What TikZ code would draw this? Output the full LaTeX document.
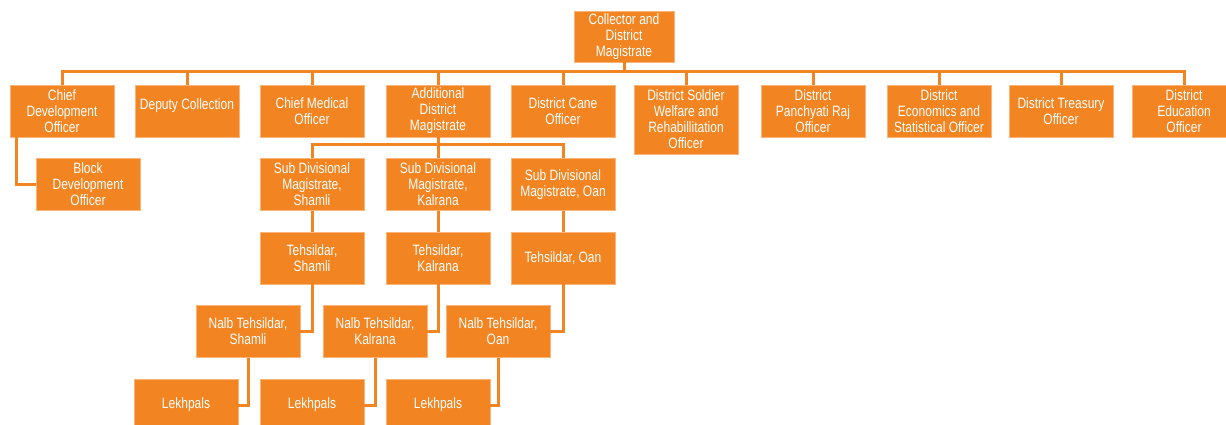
\documentclass[tikz,border=0pt]{standalone}
\usepackage{fontspec}
\setmainfont[FakeStretch=0.8]{Liberation Sans}
\definecolor{org}{RGB}{242,133,34}
\definecolor{orgedge}{RGB}{249,180,122}
\begin{document}
\begin{tikzpicture}[x=1pt,y=-1pt,
  box/.style={rectangle,fill=org,draw=orgedge,line width=0.8pt,text=white,align=center,
    minimum width=104pt,minimum height=52pt,inner sep=0pt,
    font=\fontsize{15}{16}\selectfont},
  conn/.style={draw=org,line width=3pt}]
\clip (0,0) rectangle (1226,425);
\fill[white] (0,0) rectangle (1226,425);
% top
\node[box,minimum width=100pt,minimum height=51pt] (top) at (624,36.5) {Collector and\\District\\Magistrate};
% row 1
\node[box] (cdo) at (62,111) {Chief\\Development\\Officer};
\node[box] (dep) at (187,111) {\raisebox{5pt}[\height][\depth]{Deputy Collection}};
\node[box] (cmo) at (312,111) {Chief Medical\\Officer};
\node[box] (adm) at (438,111) {Additional\\District\\Magistrate};
\node[box] (cane) at (563,111) {District Cane\\Officer};
\node[box,minimum height=69pt] (sold) at (686,119.5) {District Soldier\\Welfare and\\Rehabillitation\\Officer};
\node[box] (pan) at (813,111) {District\\Panchyati Raj\\Officer};
\node[box] (eco) at (939,111) {District\\Economics and\\Statistical Officer};
\node[box] (tre) at (1061,111) {District Treasury\\Officer};
\node[box] (edu) at (1184,111) {District\\Education\\Officer};
% row 2
\node[box] (bdo) at (88,184.5) {Block\\Development\\Officer};
\node[box] (sdms) at (312,184.5) {Sub Divisional\\Magistrate,\\Shamli};
\node[box] (sdmk) at (438,184.5) {Sub Divisional\\Magistrate,\\Kalrana};
\node[box] (sdmo) at (563,184.5) {Sub Divisional\\Magistrate, Oan};
% tehsildar
\node[box] (ts) at (312,258) {Tehsildar,\\Shamli};
\node[box] (tk) at (438,258) {Tehsildar,\\Kalrana};
\node[box] (to) at (563,258) {Tehsildar, Oan};
% nalb
\node[box] (ns) at (248,331.5) {Nalb Tehsildar,\\Shamli};
\node[box] (nk) at (375,331.5) {Nalb Tehsildar,\\Kalrana};
\node[box] (no) at (498,331.5) {Nalb Tehsildar,\\Oan};
% lekhpals
\node[box] (ls) at (186,405) {Lekhpals};
\node[box] (lk) at (312,405) {Lekhpals};
\node[box] (lo) at (438,405) {Lekhpals};
% connectors
\coordinate (bus) at (0,72);
\coordinate (sbus) at (0,145);
\foreach \c in {cdo,dep,cmo,adm,cane,sold,pan,eco,tre,edu}
  \draw[conn] (top.south) -- (top.south |- bus) -| (\c.north);
\foreach \c in {sdms,sdmk,sdmo}
  \draw[conn] (adm.south) -- (adm.south |- sbus) -| (\c.north);
\draw[conn] ([xshift=7pt]cdo.south west) |- (bdo.west);
\draw[conn] (sdms.south) -- (ts.north);
\draw[conn] (sdmk.south) -- (tk.north);
\draw[conn] (sdmo.south) -- (to.north);
\draw[conn] (ts.south) |- (ns.east);
\draw[conn] (tk.south) |- (nk.east);
\draw[conn] (to.south) |- (no.east);
\draw[conn] (ns.south) |- (ls.east);
\draw[conn] (nk.south) |- (lk.east);
\draw[conn] (no.south) |- (lo.east);
\end{tikzpicture}
\end{document}
